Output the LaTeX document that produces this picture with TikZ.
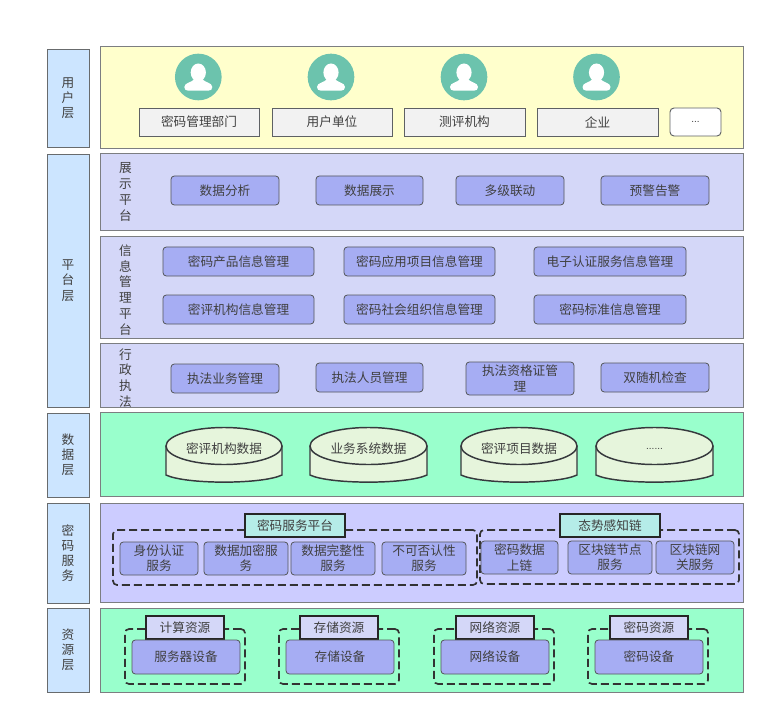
\documentclass[tikz,border=0pt]{standalone}
\usepackage{fontspec}
\setmainfont{Noto Sans CJK SC}
\newfontfamily\dotfont{Liberation Sans}
\definecolor{labelblue}{HTML}{CCE5FF}
\definecolor{paneyellow}{HTML}{FFFFCC}
\definecolor{panelav}{HTML}{D4D7F8}
\definecolor{panegreen}{HTML}{99FFCC}
\definecolor{panevio}{HTML}{CCCCFF}
\definecolor{boxblue}{HTML}{A6ADF3}
\definecolor{tealc}{HTML}{6CC3AD}
\definecolor{greyfill}{HTML}{F2F2F2}
\definecolor{cylfill}{HTML}{E6F5DC}
\definecolor{titleteal}{HTML}{B5ECE8}
\definecolor{inkdark}{HTML}{36393D}
\definecolor{txt}{HTML}{404040}
\tikzset{
  every node/.style={font=\fontsize{9.5}{11.4}\selectfont,text=txt,align=center,inner sep=0pt},
  layerbox/.style={draw=inkdark!75,line width=0.7pt,fill=labelblue},
  panebox/.style={draw=inkdark!65,line width=0.75pt},
  rolebox/.style={draw=inkdark!80,line width=0.7pt,fill=greyfill},
  svcbox/.style={draw=inkdark!85,line width=0.6pt,fill=boxblue,rounded corners=2.5pt},
  titlebox/.style={draw=black!85,line width=1.1pt,fill=titleteal},
  restitle/.style={draw=black!85,line width=1.1pt,fill=panelav},
  dashbox/.style={draw=black!80,line width=1.25pt,dash pattern=on 6pt off 3pt,rounded corners=3pt},
  cyl/.style={draw=inkdark,line width=1.1pt,fill=cylfill},
  vtext/.style={font=\fontsize{9.5}{11.8}\selectfont},
}
% name, x1, y1, x2, y2, style, text
\newcommand{\bx}[7]{%
  \pgfmathsetmacro{\bw}{(#4-#2)*0.75}%
  \pgfmathsetmacro{\bh}{(#5-#3)*0.75}%
  \node[#6,minimum width=\bw pt,minimum height=\bh pt] (#1) at ({(#2+#4)/2},{(#3+#5)/2}) {#7};}
% name, cx
\newcommand{\person}[2]{%
  \node[circle,fill=tealc,minimum size=35pt] (#1) at (#2,77) {};
  \fill[white] (#2,72.5) ellipse (7.6 and 9);
  \fill[white] (#2-4,79) .. controls (#2-6,82.5) and (#2-14,82.5) .. (#2-14,87)
     .. controls (#2-14,89.5) and (#2-12.5,90.7) .. (#2-10,90.7) -- (#2+10,90.7)
     .. controls (#2+12.5,90.7) and (#2+14,89.5) .. (#2+14,87)
     .. controls (#2+14,82.5) and (#2+6,82.5) .. (#2+4,79) -- cycle;}
% name, x1, x2, text
\newcommand{\cylinder}[4]{%
  \pgfmathsetmacro{\cm}{(#2+#3)/2}%
  \pgfmathsetmacro{\rx}{(#3-#2)/2}%
  \fill[cylfill] (#2,446) -- (#2,475) .. controls (#2+20,484) and (#3-20,484) .. (#3,475) -- (#3,446) -- cycle;
  \draw[cyl,fill=none] (#2,446) -- (#2,475) .. controls (#2+20,484.5) and (#3-20,484.5) .. (#3,475) -- (#3,446);
  \draw[cyl] (\cm,446) ellipse ({\rx} and 18.5);
  \node (#1) at (\cm,449) {#4};}
\begin{document}
\begin{tikzpicture}[x=0.75pt,y=-0.75pt]
\useasboundingbox (0,0) rectangle (773,723);
% layer labels
\bx{lu}{47}{49}{89}{147}{layerbox}{用\\户\\层}
\bx{lp}{47}{154}{89}{407}{layerbox}{平\\台\\层}
\bx{ld}{47}{413}{89}{497}{layerbox}{数\\据\\层}
\bx{lc}{47}{503}{89}{603}{layerbox}{密\\码\\服\\务}
\bx{lr}{47}{608}{89}{692}{layerbox}{资\\源\\层}
% panels
\bx{pu}{100}{47}{743}{149}{panebox,fill=paneyellow}{}
\bx{ps}{100}{154}{743}{231}{panebox,fill=panelav}{}
\bx{pi}{100}{237}{743}{338}{panebox,fill=panelav}{}
\bx{pe}{100}{343}{743}{407}{panebox,fill=panelav}{}
\bx{pd}{100}{412}{743}{496}{panebox,fill=panegreen}{}
\bx{pc}{100}{503}{743}{602}{panebox,fill=panevio}{}
\bx{pr}{100}{608}{743}{692}{panebox,fill=panegreen}{}
% users
\person{u1}{198.3}
\person{u2}{331}
\person{u3}{464}
\person{u4}{596.5}
\bx{r1}{139}{108}{259}{136}{rolebox}{密码管理部门}
\bx{r2}{272}{108}{392}{136}{rolebox}{用户单位}
\bx{r3}{404}{108}{525}{136}{rolebox}{测评机构}
\bx{r4}{537}{108}{658}{136}{rolebox}{企业}
\bx{r5}{670}{108}{721}{136}{rolebox,rounded corners=3pt,fill=white}{\dotfont\fontsize{7.5}{9}\selectfont ...}
% vertical captions
\node[vtext] (t1) at (125.5,192) {展\\示\\平\\台};
\node[vtext] (t2) at (125.5,290) {信\\息\\管\\理\\平\\台};
\node[vtext] (t3) at (125.5,378) {行\\政\\执\\法};
% display
\bx{s1}{171}{176}{279}{205}{svcbox}{数据分析}
\bx{s2}{316}{176}{423}{205}{svcbox}{数据展示}
\bx{s3}{456}{176}{564}{205}{svcbox}{多级联动}
\bx{s4}{601}{176}{709}{205}{svcbox}{预警告警}
% information management
\bx{i1}{163}{247}{314}{276}{svcbox}{密码产品信息管理}
\bx{i2}{344}{247}{495}{276}{svcbox}{密码应用项目信息管理}
\bx{i3}{534}{247}{686}{276}{svcbox}{电子认证服务信息管理}
\bx{i4}{163}{295}{314}{324}{svcbox}{密评机构信息管理}
\bx{i5}{344}{295}{495}{324}{svcbox}{密码社会组织信息管理}
\bx{i6}{534}{295}{686}{324}{svcbox}{密码标准信息管理}
% enforcement
\bx{e1}{171}{364}{279}{393}{svcbox}{执法业务管理}
\bx{e2}{316}{363}{423}{392}{svcbox}{执法人员管理}
\bx{e3}{466}{362}{574}{395}{svcbox}{执法资格证管\\理}
\bx{e4}{601}{363}{709}{392}{svcbox}{双随机检查}
% data
\cylinder{d1}{166}{282}{密评机构数据}
\cylinder{d2}{310}{427}{业务系统数据}
\cylinder{d3}{461}{577}{密评项目数据}
\cylinder{d4}{596}{713}{\dotfont\fontsize{7.5}{9}\selectfont ......}
% crypto services
\bx{c0}{113}{530}{477}{585}{dashbox}{}
\bx{c00}{480}{530}{739}{584}{dashbox}{}
\bx{ct1}{245}{514}{345}{537}{titlebox}{密码服务平台}
\bx{ct2}{560}{514}{660}{537}{titlebox}{态势感知链}
\bx{c1}{120}{542}{198}{575}{svcbox}{身份认证\\服务}
\bx{c2}{204}{542}{288}{575}{svcbox}{数据加密服\\务}
\bx{c3}{291}{542}{375}{575}{svcbox}{数据完整性\\服务}
\bx{c4}{382}{542}{466}{575}{svcbox}{不可否认性\\服务}
\bx{c5}{481}{541}{558}{574}{svcbox}{密码数据\\上链}
\bx{c6}{568}{541}{652}{574}{svcbox}{区块链节点\\服务}
\bx{c7}{656}{541}{734}{574}{svcbox}{区块链网\\关服务}
% resources
\bx{g1}{125}{629}{245}{684}{dashbox}{}
\bx{g2}{279}{629}{399}{684}{dashbox}{}
\bx{g3}{434}{629}{554}{684}{dashbox}{}
\bx{g4}{588}{629}{708}{684}{dashbox}{}
\bx{gt1}{146}{616}{224}{639}{restitle}{计算资源}
\bx{gt2}{300}{616}{378}{639}{restitle}{存储资源}
\bx{gt3}{456}{616}{534}{639}{restitle}{网络资源}
\bx{gt4}{610}{616}{688}{639}{restitle}{密码资源}
\bx{b1}{132}{640}{240}{674}{svcbox}{服务器设备}
\bx{b2}{286}{640}{394}{674}{svcbox}{存储设备}
\bx{b3}{441}{640}{549}{674}{svcbox}{网络设备}
\bx{b4}{595}{640}{703}{674}{svcbox}{密码设备}
\end{tikzpicture}
\end{document}
